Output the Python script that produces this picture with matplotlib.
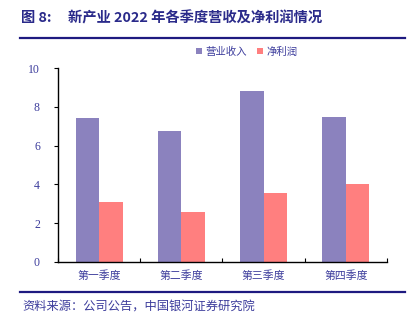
import matplotlib.pyplot as plt
import matplotlib.lines as mlines
import numpy as np

plt.rcParams['font.family'] = ['Noto Sans CJK SC', 'DejaVu Sans']

quarters = ['第一季度', '第二季度', '第三季度', '第四季度']
revenue = [7.42, 6.75, 8.79, 7.47]      # 营业收入
net_profit = [3.08, 2.60, 3.57, 4.04]   # 净利润

purple = '#8B82BE'
red = '#FF7F7F'
navy = '#2A2A8A'
txt = '#3C3C9C'

fig = plt.figure(figsize=(4.17, 3.27), dpi=100)
ax = fig.add_axes([0.139, 0.199, 0.789, 0.593])

x = np.arange(len(quarters))
w = 0.285
ax.bar(x - w / 2, revenue, w, color=purple, label='营业收入')
ax.bar(x + w / 2, net_profit, w, color=red, label='净利润')

ax.set_xlim(-0.5, 3.5)
ax.set_ylim(0, 10)
ax.set_yticks([0, 2, 4, 6, 8, 10])
ax.set_xticks(x)
ax.set_xticklabels(quarters)
ax.set_xticks(np.arange(-0.5, 4.0, 1.0), minor=True)
ax.tick_params(axis='x', which='major', length=0, pad=6, labelsize=7.8, labelcolor=txt)
ax.tick_params(axis='x', which='minor', direction='in', length=3, width=0.8)
ax.tick_params(axis='y', direction='out', length=3, width=0.8, pad=10, labelcolor=txt)
for lab in ax.get_yticklabels():
    lab.set_family('Liberation Serif')
    lab.set_fontsize(8.5)
ax.spines['top'].set_visible(False)
ax.spines['right'].set_visible(False)
ax.spines['left'].set_linewidth(1.0)
ax.spines['bottom'].set_linewidth(1.0)

ax.legend(loc='upper left', bbox_to_anchor=(0.39, 1.16), ncol=2, frameon=False,
          fontsize=7.5, handlelength=0.6, handleheight=0.6, handletextpad=0.3,
          columnspacing=1.0, labelcolor=txt)

# 标题与上下分隔线
fig.text(0.05, 0.945, '图 8:', fontsize=10.3, fontweight='bold', color=navy, va='center')
fig.text(0.163, 0.945, '新产业 2022 年各季度营收及净利润情况', fontsize=10.3,
         fontweight='bold', color=navy, va='center')
fig.add_artist(mlines.Line2D([0.048, 0.972], [0.884, 0.884], color='#1E1A80', lw=1.6))
fig.add_artist(mlines.Line2D([0.048, 0.972], [0.107, 0.107], color='#1E1A80', lw=1.6))
fig.text(0.053, 0.062, '资料来源：公司公告，中国银河证券研究院', fontsize=8.8, color=txt,
         style='italic', va='center')

fig.savefig('out.png', dpi=100)
